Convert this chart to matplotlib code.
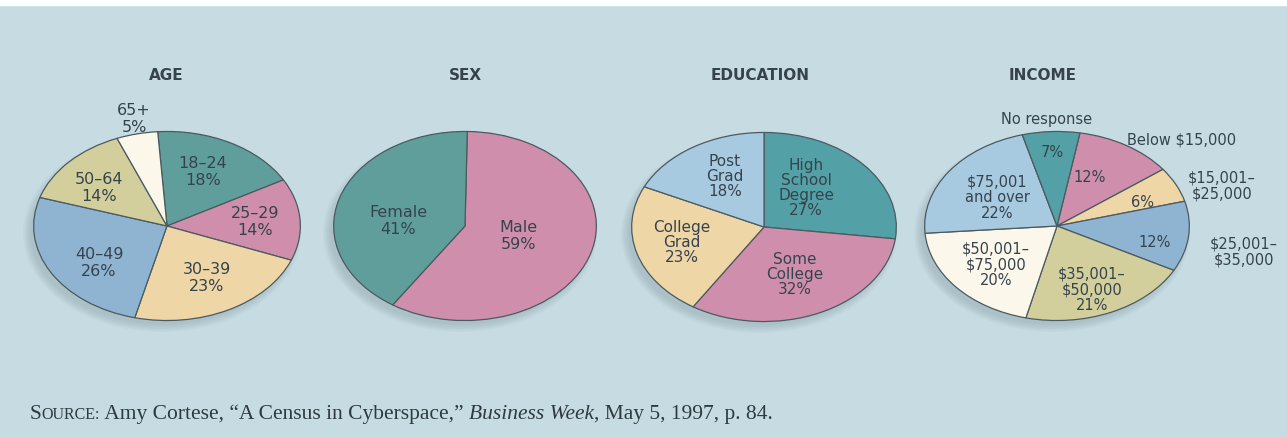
import matplotlib.pyplot as plt
from matplotlib.patches import Ellipse, Rectangle

plt.rcParams["text.parse_math"] = False

# survey breakdowns (percent), listed clockwise from the top of each pie
age_labels = ["18–24", "25–29", "30–39", "40–49", "50–64", "65+"]
age_pct = [18, 14, 23, 26, 14, 5]

sex_labels = ["Male", "Female"]
sex_pct = [59, 41]

edu_labels = ["High\nSchool\nDegree", "Some\nCollege", "College\nGrad", "Post\nGrad"]
edu_pct = [27, 32, 23, 18]

income_labels = ["Below $15,000", "$15,001–\n$25,000", "$25,001–\n$35,000",
                 "$35,001–\n$50,000", "$50,001–\n$75,000", "$75,001\nand over",
                 "No response"]
income_pct = [12, 6, 12, 21, 20, 22, 7]

# colours
BG = "#c6dce2"
TEAL = "#5f9e9b"
TEAL2 = "#53a0a6"
PINK = "#cf8fac"
TAN = "#eed6a6"
BLUE = "#8fb4d2"
KHAKI = "#d3cf9d"
CREAM = "#fbf7ea"
LTBLUE = "#a8cae1"
INK = "#36434d"
EDGE = "#4b5a60"

W, H = 1287, 439
fig = plt.figure(figsize=(W / 100, H / 100), dpi=100)
fig.patch.set_facecolor(BG)

bg = fig.add_axes([0, 0, 1, 1])
bg.set_xlim(0, W)
bg.set_ylim(H, 0)
bg.axis("off")
bg.add_patch(Rectangle((0, 0), W, 6, color="white", zorder=0))

# text layer sits above the pies
top = fig.add_axes([0, 0, 1, 1], zorder=10)
top.set_xlim(0, W)
top.set_ylim(H, 0)
top.axis("off")


def draw_pie(cx, cy, a, b, values, colors, start):
    # soft shadow under the disc
    for k in range(6):
        bg.add_patch(Ellipse((cx - 5, cy + 7), 2 * a + 10 - 3 * k, 2 * b + 8 - 3 * k,
                             color="#6f8088", alpha=0.05, lw=0, zorder=1))
    ax = fig.add_axes([(cx - a) / W, (H - cy - b) / H, 2 * a / W, 2 * b / H], zorder=5)
    ax.pie(values, colors=colors, startangle=start, counterclock=False,
           wedgeprops=dict(edgecolor=EDGE, linewidth=0.9))
    ax.set_aspect("auto")
    ax.set_xlim(-1.005, 1.005)
    ax.set_ylim(-1.005, 1.005)
    ax.axis("off")
    return ax


def label(x, y, s, size=11.5, ls=1.2):
    top.text(x, y, s, ha="center", va="center", fontsize=size, color=INK,
             family="DejaVu Sans", linespacing=ls)


def title(x, s):
    top.text(x, 76, s, ha="center", va="center", fontsize=11, color=INK,
             family="DejaVu Sans", fontweight="bold")


# AGE
draw_pie(167, 227, 134, 95, age_pct, [TEAL, PINK, TAN, BLUE, KHAKI, CREAM], 94)
title(166, "AGE")
age_pos = [(203, 172), (255, 222), (207, 278), (99, 263), (99, 188), (134, 119)]
for name, v, (x, y) in zip(age_labels, age_pct, age_pos):
    label(x, y, f"{name}\n{v}%")

# SEX
draw_pie(465, 227, 132, 95, sex_pct, [PINK, TEAL], 89)
title(465, "SEX")
sex_pos = [(518, 236), (398, 221)]
for name, v, (x, y) in zip(sex_labels, sex_pct, sex_pos):
    label(x, y, f"{name}\n{v}%")

# EDUCATION
draw_pie(764, 228, 133, 95, edu_pct, [TEAL2, PINK, TAN, LTBLUE], 90)
title(760, "EDUCATION")
edu_pos = [(806, 188), (795, 275), (682, 243), (725, 177)]
for name, v, (x, y) in zip(edu_labels, edu_pct, edu_pos):
    label(x, y, f"{name}\n{v}%", size=11, ls=1.0)

# INCOME
draw_pie(1057, 227, 133, 95, income_pct,
         [PINK, TAN, BLUE, KHAKI, CREAM, LTBLUE, TEAL2], 80)
title(1043, "INCOME")
income_name_pos = [(1182, 140), (1222, 186), (1244, 252), (1092, 290),
                   (996, 265), (997, 198), (1047, 120)]
income_pct_pos = [(1090, 178), (1143, 203), (1155, 243), None, None, None, (1052, 153)]
for name, v, npos, ppos in zip(income_labels, income_pct, income_name_pos, income_pct_pos):
    if ppos is None:
        label(npos[0], npos[1], f"{name}\n{v}%", size=10.5, ls=1.05)
    else:
        label(npos[0], npos[1], name, size=10.5, ls=1.05)
        label(ppos[0], ppos[1], f"{v}%", size=10.5)

# source line, "Source" set in small caps
renderer = fig.canvas.get_renderer()
pieces = [("S", 15.5, "normal"), ("OURCE:", 11.5, "normal"),
          (" Amy Cortese, “A Census in Cyberspace,” ", 15.5, "normal"),
          ("Business Week", 15.5, "italic"),
          (", May 5, 1997, p. 84.", 15.5, "normal")]
x = 30
for s, size, style in pieces:
    t = top.text(x, 419, s, ha="left", va="baseline", fontsize=size, style=style,
                 family="Liberation Serif", color="#2f3a40")
    x = t.get_window_extent(renderer).x1

fig.savefig("out.png", dpi=100, facecolor=BG)
